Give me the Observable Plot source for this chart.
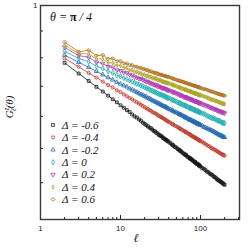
<!DOCTYPE html>
<html><head><meta charset="utf-8">
<script src="https://cdn.jsdelivr.net/npm/d3@7"></script>
<script src="https://cdn.jsdelivr.net/npm/@observablehq/plot@0.6"></script>
<style>body{margin:0;background:#fff} svg{display:block}</style>
</head><body><div id="chart"></div>
<script>
const ells = [2,3,4,5,6,7,8,9,10,11,12,13,14,15,16,17,18,19,20,21,22,23,24,25,26,27,28,29,30,31,32,33,34,35,36,37,38,39,40,
  42,44,45,46,48,50,52,54,55,56,58,60,62,64,65,66,68,70,72,74,75,76,78,80,82,84,85,86,88,90,92,94,95,96,98,100,
  105,110,115,120,125,130,135,140,145,150,155,160,165,170,175,180,185,190,195,200];
const deltaLabels = ["-0.6","-0.4","-0.2","0","0.2","0.4","0.6"];
const gDm06 = [0.891,0.872,0.859,0.849,0.841,0.834,0.828,0.823,0.818,0.814,0.810,0.807,0.803,0.800,0.798,0.795,0.793,0.790,0.788,
  0.786,0.784,0.782,0.781,0.779,0.777,0.776,0.774,0.773,0.771,0.770,0.769,0.768,0.766,0.765,0.764,0.763,0.762,0.761,0.760,
  0.758,0.756,0.755,0.754,0.752,0.751,0.749,0.748,0.747,0.746,0.745,0.743,0.742,0.741,0.740,0.740,0.738,0.737,0.736,0.735,0.735,0.734,0.733,0.732,0.731,0.730,0.730,0.729,0.728,0.727,0.727,0.726,0.725,0.725,0.724,0.723,
  0.721,0.720,0.718,0.716,0.715,0.713,0.712,0.711,0.709,0.708,0.707,0.705,0.704,0.703,0.702,0.701,0.700,0.699,0.698,0.697];
const gDm04 = [0.899,0.884,0.873,0.865,0.858,0.852,0.848,0.843,0.840,0.836,0.833,0.830,0.828,0.825,0.823,0.821,0.819,0.817,0.815,
  0.813,0.812,0.810,0.809,0.807,0.806,0.805,0.804,0.802,0.801,0.800,0.799,0.798,0.797,0.796,0.795,0.794,0.793,0.792,0.791,
  0.790,0.788,0.787,0.787,0.785,0.784,0.783,0.781,0.781,0.780,0.779,0.778,0.777,0.776,0.775,0.775,0.774,0.773,0.772,0.771,0.771,0.770,0.769,0.768,0.768,0.767,0.766,0.766,0.765,0.765,0.764,0.763,0.763,0.762,0.762,0.761,
  0.760,0.758,0.757,0.755,0.754,0.753,0.751,0.750,0.749,0.748,0.747,0.746,0.745,0.744,0.743,0.742,0.741,0.741,0.740,0.739];
const gDm02 = [0.905,0.892,0.883,0.876,0.870,0.865,0.861,0.857,0.854,0.851,0.849,0.846,0.844,0.842,0.840,0.838,0.836,0.835,0.833,
  0.832,0.830,0.829,0.828,0.826,0.825,0.824,0.823,0.822,0.821,0.820,0.819,0.818,0.817,0.816,0.816,0.815,0.814,0.813,0.812,
  0.811,0.810,0.809,0.808,0.807,0.806,0.805,0.804,0.803,0.803,0.802,0.801,0.800,0.799,0.798,0.798,0.797,0.796,0.795,0.795,0.794,0.794,0.793,0.792,0.792,0.791,0.791,0.790,0.790,0.789,0.788,0.788,0.788,0.787,0.787,0.786,
  0.785,0.783,0.782,0.781,0.780,0.779,0.778,0.777,0.776,0.775,0.774,0.773,0.772,0.771,0.770,0.770,0.769,0.768,0.767,0.767];
const gD0 = [0.912,0.899,0.893,0.885,0.881,0.876,0.873,0.869,0.867,0.864,0.862,0.860,0.858,0.856,0.854,0.853,0.851,0.850,0.848,
  0.847,0.846,0.844,0.843,0.842,0.841,0.840,0.839,0.838,0.837,0.836,0.836,0.835,0.834,0.833,0.833,0.832,0.831,0.830,0.830,
  0.829,0.827,0.827,0.826,0.825,0.824,0.823,0.822,0.821,0.821,0.820,0.819,0.818,0.818,0.817,0.817,0.816,0.815,0.814,0.814,0.813,0.813,0.812,0.812,0.811,0.810,0.810,0.810,0.809,0.809,0.808,0.808,0.807,0.807,0.807,0.806,
  0.805,0.804,0.803,0.801,0.800,0.799,0.798,0.797,0.797,0.796,0.795,0.794,0.793,0.793,0.792,0.791,0.790,0.790,0.789,0.789];
const gDp02 = [0.919,0.904,0.901,0.892,0.890,0.884,0.883,0.878,0.877,0.874,0.873,0.870,0.869,0.866,0.865,0.863,0.863,0.861,0.860,
  0.858,0.858,0.856,0.855,0.854,0.853,0.852,0.852,0.850,0.850,0.849,0.848,0.847,0.847,0.846,0.846,0.845,0.844,0.843,0.843,
  0.842,0.841,0.840,0.840,0.839,0.838,0.837,0.836,0.835,0.835,0.834,0.833,0.832,0.832,0.831,0.831,0.830,0.830,0.829,0.828,0.828,0.828,0.827,0.826,0.826,0.825,0.825,0.825,0.824,0.824,0.823,0.823,0.822,0.822,0.822,0.821,
  0.820,0.819,0.818,0.817,0.816,0.815,0.814,0.813,0.812,0.812,0.811,0.810,0.809,0.809,0.808,0.807,0.807,0.806,0.806,0.805];
const gDp04 = [0.923,0.908,0.907,0.898,0.898,0.891,0.891,0.886,0.886,0.882,0.882,0.878,0.878,0.875,0.875,0.873,0.872,0.870,0.870,
  0.868,0.868,0.866,0.866,0.864,0.864,0.863,0.863,0.861,0.861,0.860,0.860,0.858,0.858,0.857,0.857,0.856,0.856,0.855,0.855,
  0.854,0.853,0.852,0.852,0.851,0.850,0.849,0.848,0.848,0.847,0.846,0.846,0.845,0.844,0.844,0.844,0.843,0.842,0.842,0.841,0.841,0.841,0.840,0.839,0.839,0.838,0.838,0.838,0.837,0.837,0.836,0.836,0.836,0.835,0.835,0.835,
  0.834,0.833,0.832,0.831,0.830,0.829,0.828,0.827,0.827,0.826,0.825,0.825,0.824,0.823,0.823,0.822,0.821,0.821,0.820,0.820];
const gDp06 = [0.929,0.911,0.914,0.904,0.905,0.898,0.899,0.894,0.894,0.890,0.890,0.887,0.887,0.884,0.884,0.882,0.882,0.880,0.880,
  0.878,0.878,0.876,0.876,0.874,0.874,0.873,0.873,0.871,0.872,0.870,0.870,0.869,0.869,0.868,0.868,0.867,0.867,0.866,0.866,
  0.865,0.864,0.863,0.863,0.862,0.861,0.860,0.860,0.859,0.859,0.858,0.858,0.857,0.856,0.856,0.856,0.855,0.854,0.854,0.853,0.853,0.853,0.852,0.852,0.851,0.851,0.851,0.850,0.850,0.849,0.849,0.849,0.848,0.848,0.848,0.847,
  0.846,0.845,0.845,0.844,0.843,0.842,0.841,0.841,0.840,0.839,0.839,0.838,0.837,0.837,0.836,0.836,0.835,0.835,0.834,0.834];
const colors = ["#151515","#c23a2c","#2368ad","#22adb0","#b03cb6","#a9a31e","#b3711f"];
const xMajor = [1,10,100];
const xMinor = [2,3,4,5,6,7,8,9,20,30,40,50,60,70,80,90,200,300];
const yTicks = [0.7,0.75,0.8,0.85,0.9,0.95,1];

const series = [gDm06,gDm04,gDm02,gD0,gDp02,gDp04,gDp06];

const triDown = {draw(ctx, size){ const y = Math.sqrt(size/(Math.sqrt(3)*3)); ctx.moveTo(0, y*2); ctx.lineTo(-Math.sqrt(3)*y, -y); ctx.lineTo(Math.sqrt(3)*y, -y); ctx.closePath(); }};
const thinDiamond = {draw(ctx, size){ const r = Math.sqrt(size/Math.PI); ctx.moveTo(0,-1.35*r); ctx.lineTo(0.7*r,0); ctx.lineTo(0,1.35*r); ctx.lineTo(-0.7*r,0); ctx.closePath(); }};
const hexH = {draw(ctx, size){ const r = Math.sqrt(size/Math.PI); ctx.moveTo(-1.3*r,0); ctx.lineTo(-0.6*r,-0.8*r); ctx.lineTo(0.6*r,-0.8*r); ctx.lineTo(1.3*r,0); ctx.lineTo(0.6*r,0.8*r); ctx.lineTo(-0.6*r,0.8*r); ctx.closePath(); }};
const symbols = [d3.symbolSquare, d3.symbolCircle, d3.symbolTriangle, d3.symbolDiamond, triDown, thinDiamond, hexH];

const rows = series.map((vals) => vals.map((v, j) => ({ell: ells[j], g: v})));
const R = 1.6;

const marks = [];
rows.forEach((r, i) => {
  marks.push(Plot.line(r, {x: "ell", y: "g", stroke: colors[i], strokeWidth: 0.8}));
  marks.push(Plot.dot(r, {x: "ell", y: "g", stroke: colors[i], symbol: symbols[i], r: R, strokeWidth: 0.8, fill: "none"}));
});

const chart = Plot.plot({
  width: 249, height: 249,
  marginLeft: 40, marginRight: 10, marginTop: 5, marginBottom: 30,
  style: {fontFamily: "'Liberation Sans', Arial, sans-serif", fontSize: "8px", background: "white", color: "#222"},
  x: {type: "log", domain: [1, 307]},
  y: {type: "log", domain: [0.65, 1]},
  marks: [
    ...marks,
    Plot.axisX({ticks: xMajor, tickSize: 0, tickPadding: 6, tickFormat: d => String(d), label: null}),
    Plot.axisX({ticks: xMajor, tickSize: -4, tickFormat: () => "", label: null}),
    Plot.axisX({ticks: xMinor, tickSize: -2, tickFormat: () => "", label: null}),
    Plot.axisY({ticks: [1], tickSize: 0, tickPadding: 3, tickFormat: d => String(d), label: null}),
    Plot.axisY({ticks: yTicks, tickSize: -3, tickFormat: () => "", label: null}),
    Plot.frame({stroke: "#3a3a3a", strokeWidth: 1.4})
  ]
});
document.getElementById("chart").append(chart);

const svg = d3.select(chart);
const serif = "'Liberation Serif', 'Times New Roman', serif";
function txt(sel) { return sel.style("font-family", serif).style("font-style", "italic").attr("fill", "#111"); }
// title annotation
const t = txt(svg.append("text")).attr("x", 50).attr("y", 21).attr("text-anchor", "start").style("font-size", "12px");
t.append("tspan").text("θ = ");
t.append("tspan").style("font-weight", "bold").style("font-style", "normal").text("π");
t.append("tspan").text(" / 4");
// x label
txt(svg.append("text")).attr("x", 136).attr("y", 242).attr("text-anchor", "middle").style("font-size", "12px").text("ℓ");
// y label
const yl = txt(svg.append("text")).attr("transform", "translate(13,107) rotate(-90)").attr("text-anchor", "middle").style("font-size", "11px");
yl.append("tspan").text("G");
yl.append("tspan").style("font-size", "7.5px").attr("dy", -4.5).text("z");
yl.append("tspan").style("font-size", "7.5px").attr("dx", -4).attr("dy", 7.5).text("ℓ");
yl.append("tspan").attr("dy", -3).text("(θ)");
// legend
const lg = svg.append("g");
deltaLabels.forEach((lab, i) => {
  const y = 125 + i * 12.4;
  lg.append("path").attr("transform", `translate(53,${y})`).attr("d", d3.symbol(symbols[i], Math.PI * R * R)()).attr("fill", "none").attr("stroke", colors[i]).attr("stroke-width", 0.8);
  txt(lg.append("text")).attr("x", 62).attr("y", y + 3.8).attr("text-anchor", "start").style("font-size", "11px").text("Δ = " + lab);
});
</script>
</body></html>
